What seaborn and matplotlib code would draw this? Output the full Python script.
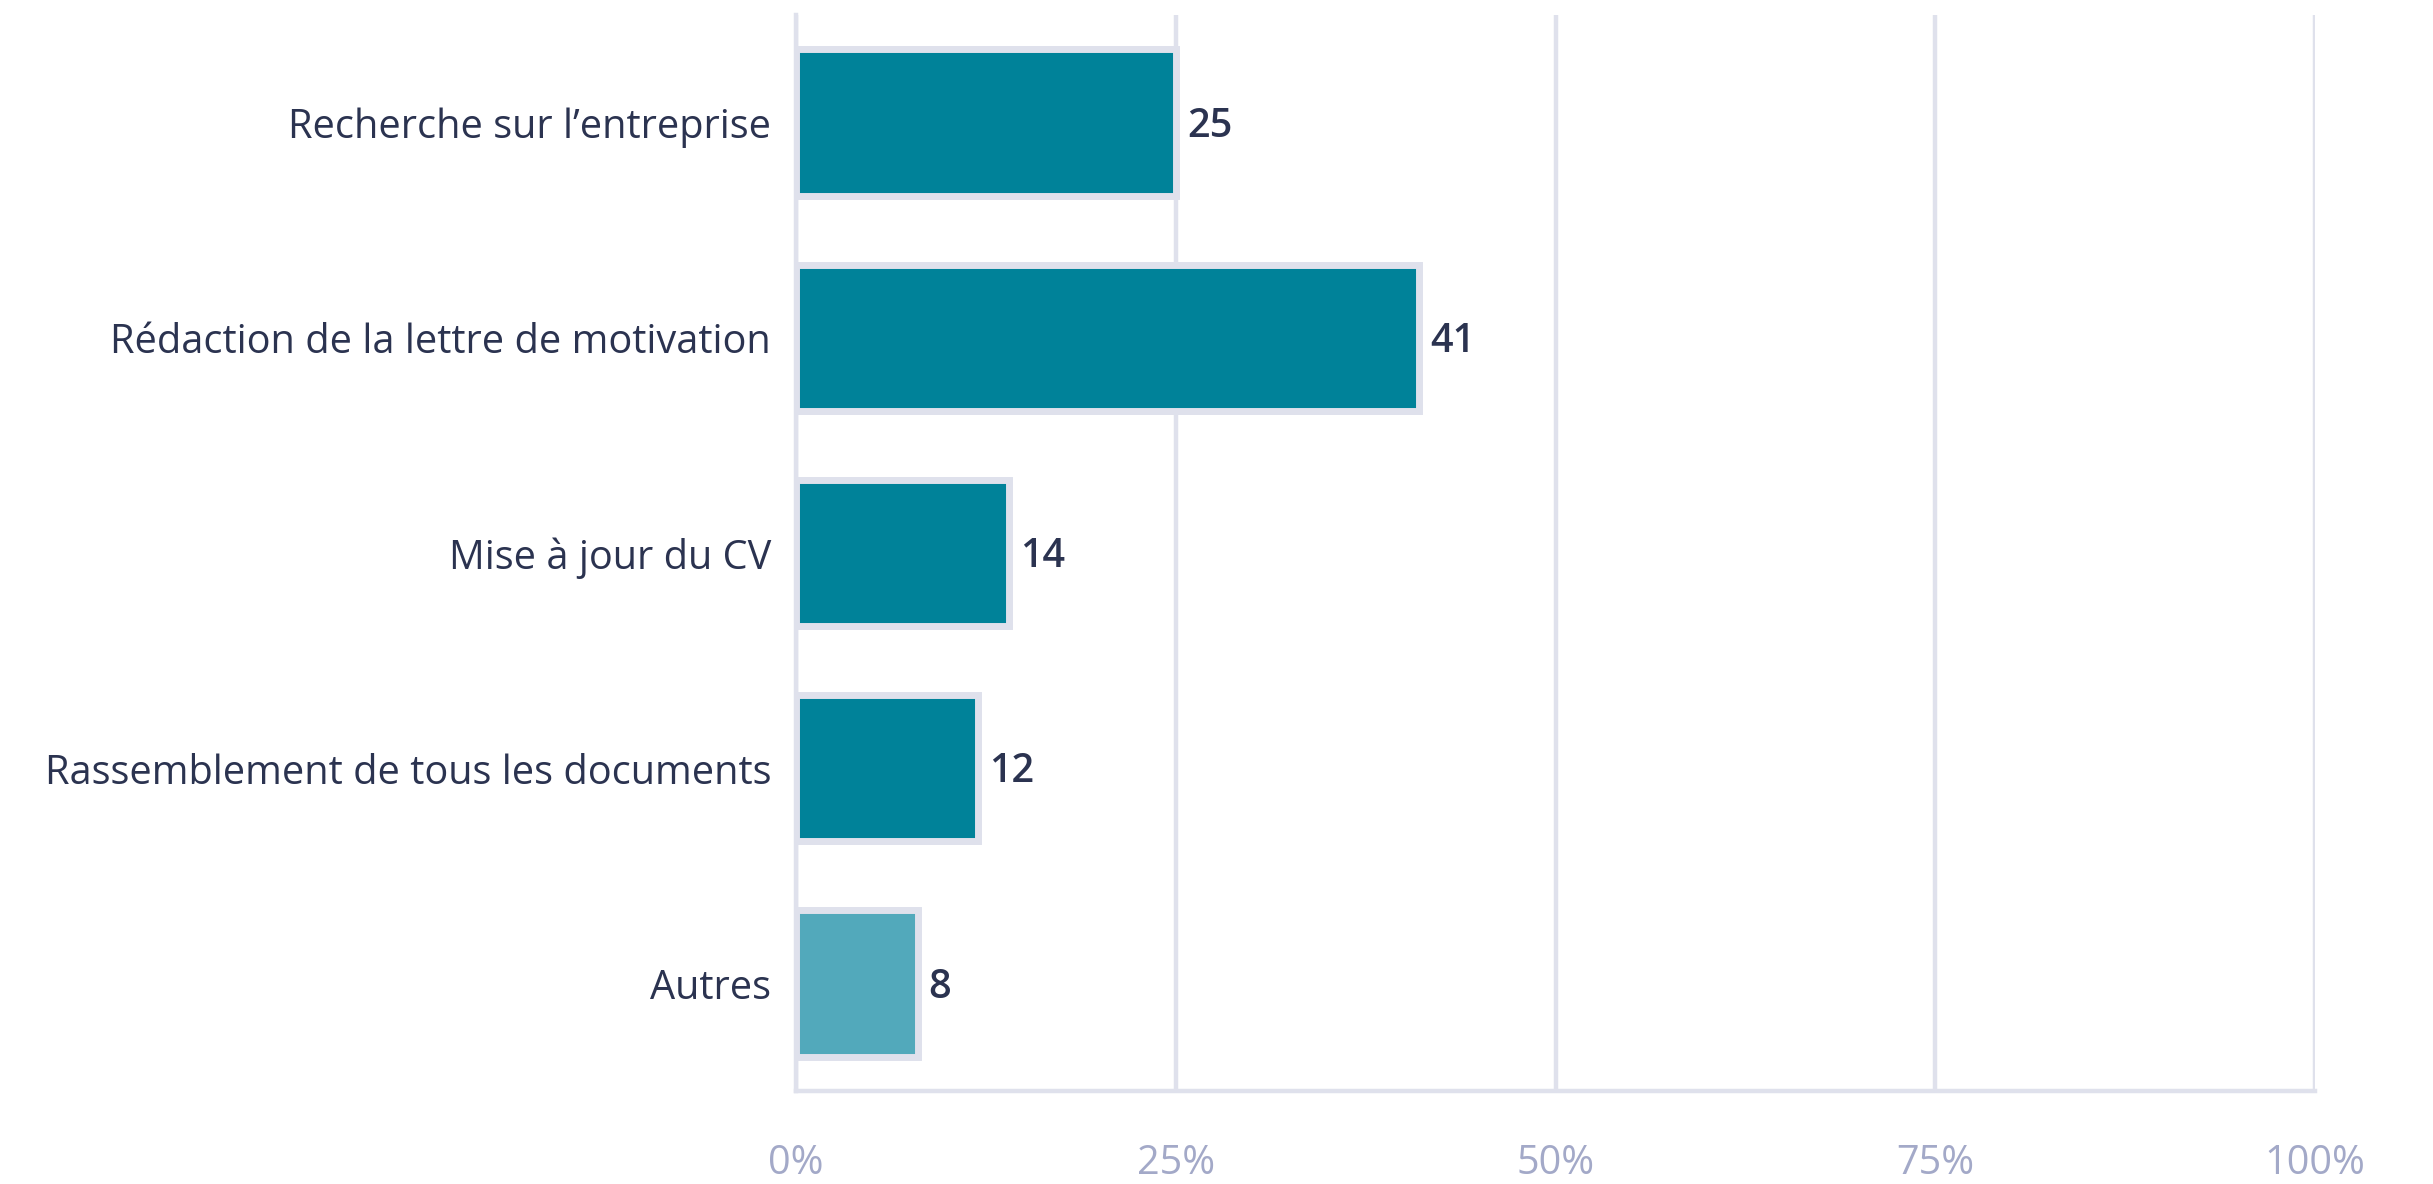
import pandas as pd
import matplotlib.pyplot as plt
import seaborn as sns

# Data
categories = [
    "Recherche sur l\u2019entreprise",
    "Rédaction de la lettre de motivation",
    "Mise à jour du CV",
    "Rassemblement de tous les documents",
    "Autres",
]
values = [25, 41, 14, 12, 8]
bar_colors = ["#008299", "#008299", "#008299", "#008299", "#52a9bb"]
x_ticks = [0, 25, 50, 75, 100]
x_tick_labels = ["0%", "25%", "50%", "75%", "100%"]

df = pd.DataFrame({"Category": categories, "Value": values})

sns.set_style("white")
plt.rcParams["font.family"] = ["Open Sans", "DejaVu Sans"]

grid_color = "#dfe1ec"
text_color = "#2b3350"
tick_color = "#a3a9c8"

fig = plt.figure(figsize=(24.33, 11.84), dpi=100)
ax = fig.add_axes([0.3272, 0.0785, 0.9515 - 0.3272, 0.9873 - 0.0785])

sns.barplot(
    data=df, x="Value", y="Category", hue="Category",
    palette=bar_colors, saturation=1, orient="h", legend=False, width=0.68,
    edgecolor=grid_color, linewidth=5, ax=ax, zorder=3,
)

# value labels, nudged slightly down like the original
for container in ax.containers:
    labels = ax.bar_label(container, padding=8, fontsize=28.5, fontweight=600, color=text_color)
    for t in labels:
        t.xyann = (8, -3)

ax.set_xlim(0, 100)
ax.set_ylim(4.5, -0.5)
ax.set_xticks(x_ticks)
ax.set_xticklabels(x_tick_labels)
ax.xaxis.grid(True, color=grid_color, linewidth=3.2, zorder=0)
ax.set_axisbelow(True)

for side in ["top", "right"]:
    ax.spines[side].set_visible(False)
for side in ["left", "bottom"]:
    ax.spines[side].set_color(grid_color)
    ax.spines[side].set_linewidth(3.2)

ax.tick_params(axis="x", length=0, pad=38, labelsize=28.5, labelcolor=tick_color)
ax.tick_params(axis="y", length=0, pad=18, labelsize=28.6, labelcolor=text_color)
ax.set_xlabel("")
ax.set_ylabel("")

fig.savefig("out.png", dpi=100, facecolor="white")
